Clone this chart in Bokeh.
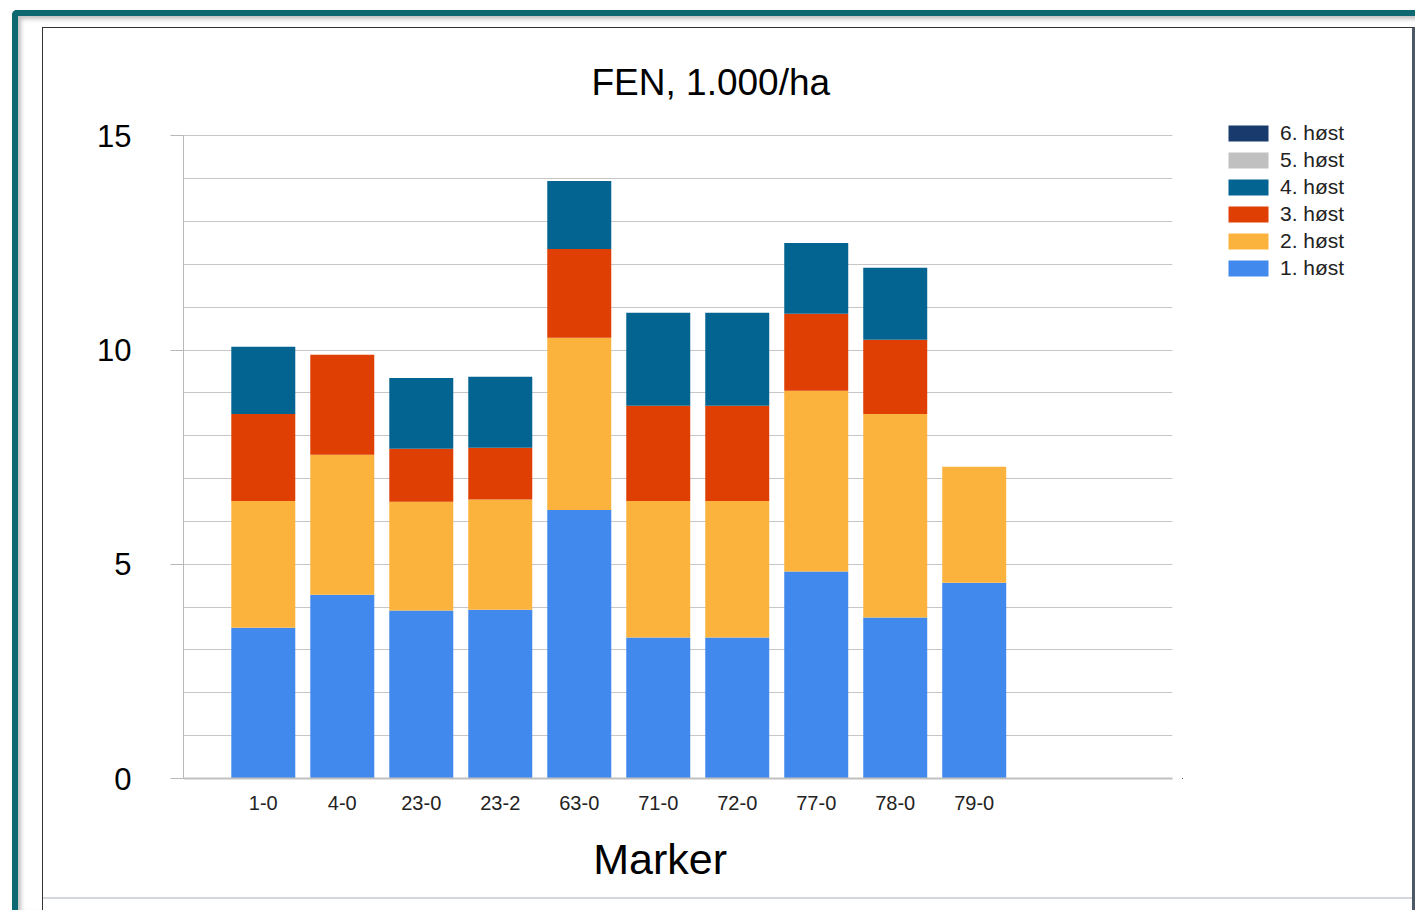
from bokeh.plotting import figure
from bokeh.models import FixedTicker, Range1d, Legend, LegendItem, Title, Spacer
from bokeh.layouts import column, row
from bokeh.embed import file_html
from bokeh.resources import INLINE

categories = ["1-0", "4-0", "23-0", "23-2", "63-0", "71-0", "72-0", "77-0", "78-0", "79-0"]
host_1 = [3.52, 4.29, 3.92, 3.94, 6.27, 3.29, 3.29, 4.83, 3.76, 4.57]
host_2 = [2.96, 3.27, 2.54, 2.57, 4.02, 3.19, 3.19, 4.22, 4.75, 2.71]
host_3 = [2.03, 2.33, 1.24, 1.21, 2.07, 2.22, 2.22, 1.80, 1.73, 0.0]
host_4 = [1.57, 0.0, 1.65, 1.66, 1.59, 2.17, 2.17, 1.65, 1.68, 0.0]
host_5 = [0.0] * 10
host_6 = [0.0] * 10
series_names = ["1. høst", "2. høst", "3. høst", "4. høst", "5. høst", "6. høst"]
series_colors = ["#4189ec", "#fcb33e", "#df3f03", "#046491", "#c0c0c0", "#193a6c"]
y_ticks = [0, 5, 10, 15]
y_minor = list(range(0, 16))

FONT = "Liberation Sans"

positions = list(range(len(categories)))
keys = ["h1", "h2", "h3", "h4", "h5", "h6"]
data = {"x": positions}
for k, vals in zip(keys, [host_1, host_2, host_3, host_4, host_5, host_6]):
    data[k] = vals

p = figure(width=1139, height=869, output_backend="svg", toolbar_location=None,
           x_range=Range1d(-1.01, 11.51), y_range=Range1d(0, 15.5),
           min_border_left=140, min_border_right=10, min_border_top=86,
           min_border_bottom=119)
p.outline_line_color = None
p.background_fill_color = "white"
p.border_fill_color = "white"

rends = p.vbar_stack(keys, x="x", width=0.81, color=series_colors, source=data,
                     line_color=None)

# axes
p.yaxis.ticker = FixedTicker(ticks=y_ticks, minor_ticks=y_minor)
p.yaxis.bounds = (0, 15)
p.ygrid.ticker = FixedTicker(ticks=y_ticks, minor_ticks=y_minor)
p.ygrid.grid_line_color = "#c6c6c6"
p.ygrid.minor_grid_line_color = "#c6c6c6"
p.xgrid.grid_line_color = None
p.yaxis.axis_line_color = "#b8b8b8"
p.yaxis.major_tick_line_color = "#b8b8b8"
p.yaxis.major_tick_out = 13
p.yaxis.major_tick_in = 0
p.yaxis.minor_tick_line_color = None
p.yaxis.major_label_standoff = 39
p.yaxis.major_label_text_font = FONT
p.yaxis.major_label_text_font_size = "31px"
p.yaxis.major_label_text_color = "#000000"

p.xaxis.ticker = FixedTicker(ticks=positions)
p.xaxis.major_label_overrides = {i: c for i, c in enumerate(categories)}
p.xaxis.major_tick_line_color = None
p.xaxis.minor_tick_line_color = None
p.xaxis.axis_line_color = "#c0c0c0"
p.xaxis.axis_line_width = 2
p.xaxis.major_label_standoff = 11
p.xaxis.major_label_text_font = FONT
p.xaxis.major_label_text_font_size = "20px"
p.xaxis.major_label_text_color = "#222222"
p.xaxis.axis_label = "Marker\u00a0\u00a0\u00a0"
p.xaxis.axis_label_standoff = 22
p.xaxis.axis_label_text_font = FONT
p.xaxis.axis_label_text_font_size = "43px"
p.xaxis.axis_label_text_font_style = "normal"
p.xaxis.axis_label_text_color = "#000000"

# title
t = Title(text="FEN, 1.000/ha", align="left", offset=408, text_font=FONT,
          text_font_size="37px", text_font_style="normal", text_color="#000000",
          standoff=23)
p.add_layout(t, "above")

# legend panel (separate canvas to the right of the plot area)
lf = figure(width=230, height=869, output_backend="svg", toolbar_location=None,
            x_range=Range1d(20, 21), y_range=Range1d(20, 21), min_border=0,
            min_border_left=0, min_border_right=0, min_border_top=0, min_border_bottom=0)
lf.axis.visible = False
lf.grid.visible = False
lf.outline_line_color = None
lf.background_fill_color = "white"
lf.border_fill_color = "white"
lrends = lf.vbar_stack(keys, x="x", width=0.81, color=series_colors, source=dict(data),
                       line_color=None)

items = [LegendItem(label=n, renderers=[r]) for n, r in zip(series_names, lrends)]
items = items[::-1]
legend = Legend(items=items, location=(41, 498), orientation="vertical",
                glyph_width=50, glyph_height=20, label_height=16, spacing=3,
                label_standoff=7, padding=0, margin=0,
                label_text_font=FONT, label_text_font_size="21px",
                label_text_color="#222222", border_line_color=None,
                background_fill_alpha=0)
lf.add_layout(legend, "center")

inner = column(row(p, lf), styles={"border-bottom": "2px solid #d3d7dc"})
card = column(inner, Spacer(height=11),
              styles={"border-left": "1px solid #333333", "border-top": "1px solid #333333",
                      "border-right": "3px solid #4d5966", "background": "white"})
outer = column(card, styles={"margin-left": "12px", "margin-top": "10px",
                             "border-left": "6px solid #0e6872", "border-top": "6px solid #0e6872",
                             "border-top-left-radius": "5px", "padding-left": "24px",
                             "padding-top": "11px",
                             "box-shadow": "inset 3px 3px 4px rgba(0,0,0,0.25)"})

open("out.html", "w").write(file_html(outer, INLINE))
